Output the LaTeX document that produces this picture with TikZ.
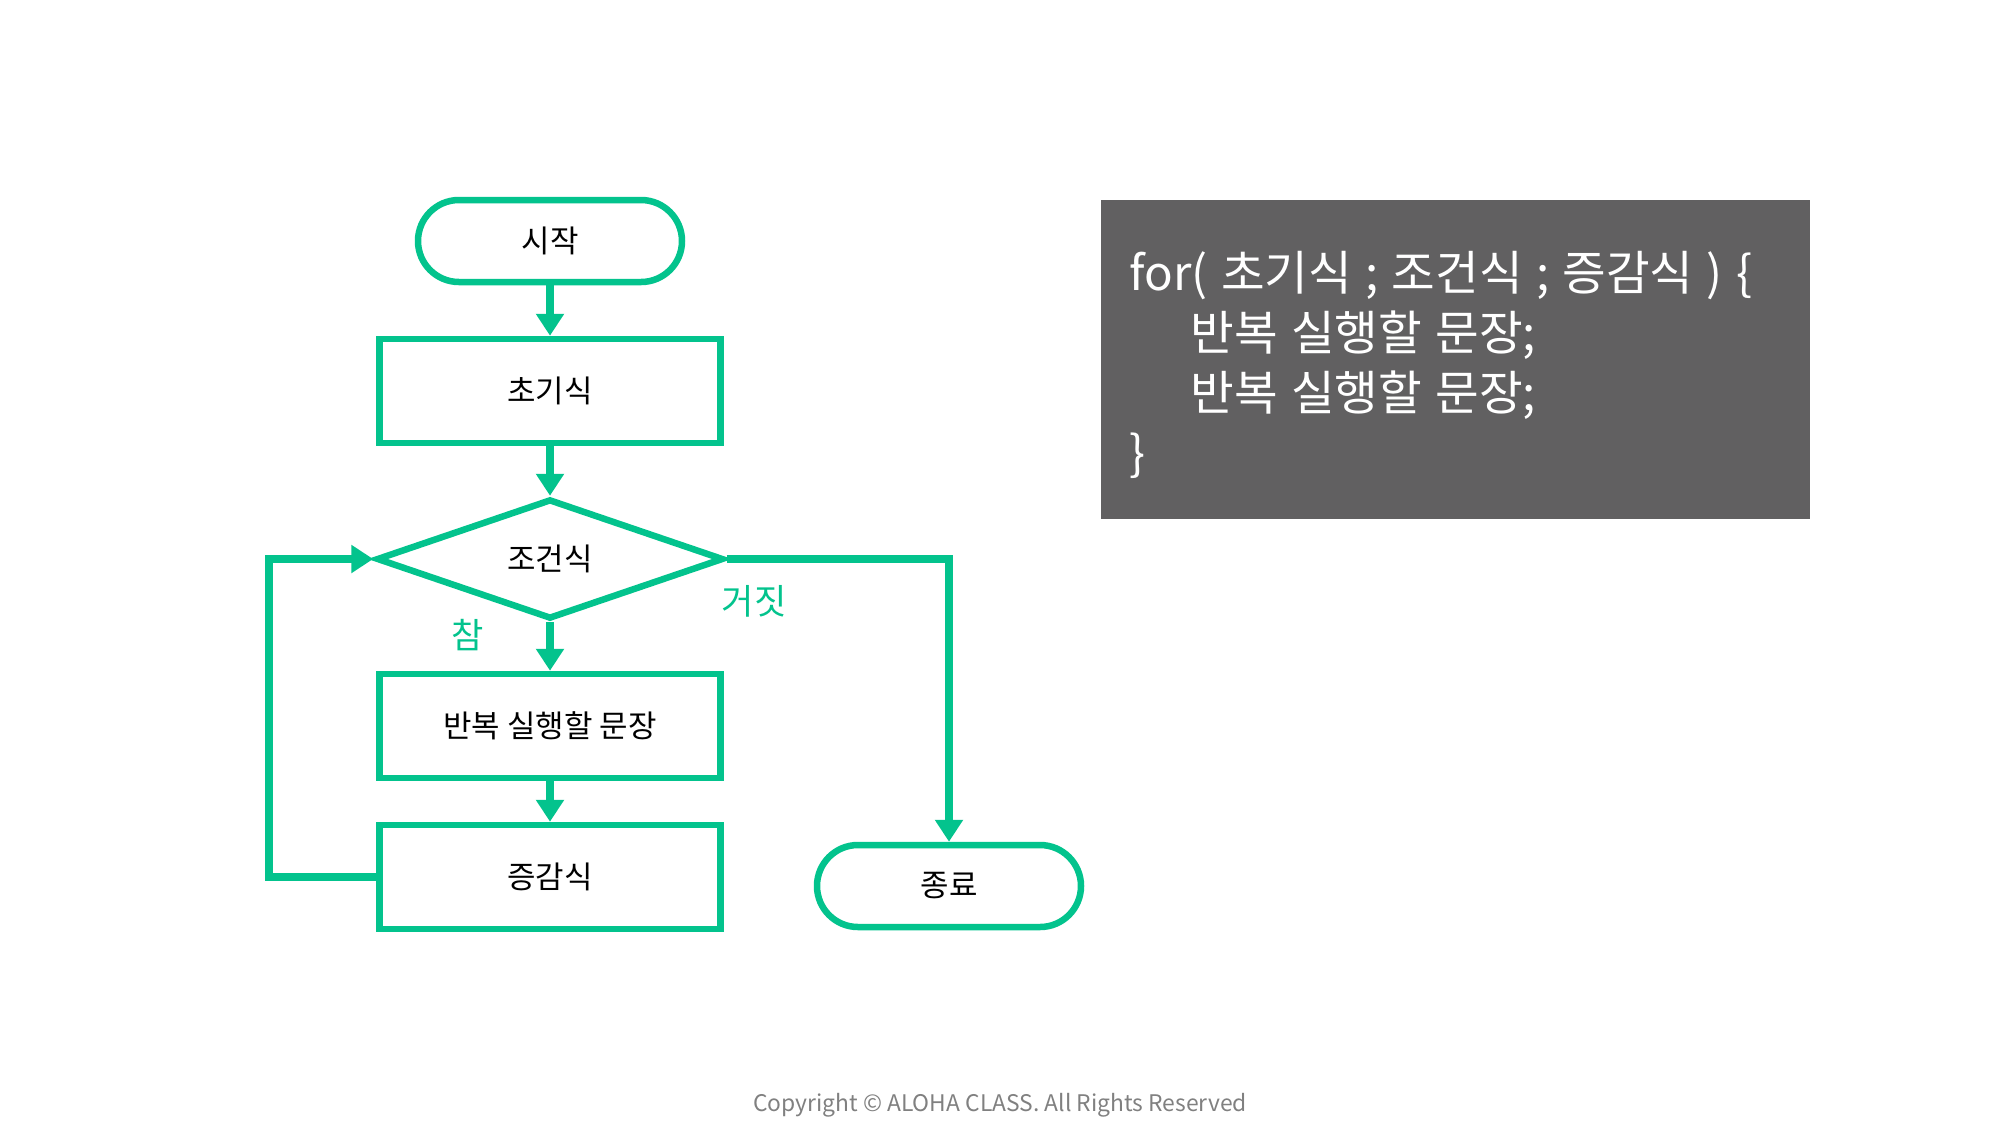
\documentclass[tikz,border=0pt]{standalone}
\usepackage{fontspec}
\setmainfont{Noto Sans CJK KR}
\newfontfamily\codefont{Noto Sans CJK KR}[WordSpace=1.25]
\usetikzlibrary{arrows.meta,shapes.geometric}
\definecolor{flow}{RGB}{3,195,141}
\definecolor{codebg}{RGB}{97,96,97}
\definecolor{copyc}{RGB}{128,128,128}
\tikzset{
  box/.style={draw=flow,line width=0.065cm,fill=white,align=center,font=\fontsize{8.8}{10}\selectfont,minimum width=3.41cm,minimum height=1.04cm,inner sep=0pt},
  term/.style={box,rounded corners=0.41cm,minimum width=2.64cm,minimum height=0.82cm},
  cond/.style={box,diamond,aspect=2.9,minimum width=3.47cm,minimum height=1.2cm},
  lbl/.style={font=\fontsize{10}{12}\selectfont,text=flow},
  codeln/.style={anchor=base west,text=white,font=\codefont\fontsize{13.5}{17}\selectfont,inner sep=0pt},
  ar/.style={-{Triangle[length=0.22cm,width=0.27cm]},draw=flow,line width=0.085cm},
}
\begin{document}
\begin{tikzpicture}
  \useasboundingbox (0,0) rectangle (20,-11.31);
  % flow chart
  \node[term] (start) at (5.50,-2.41) {시작};
  \node[box] (init) at (5.50,-3.91) {초기식};
  \node[cond] (test) at (5.50,-5.59) {조건식};
  \node[box] (body) at (5.50,-7.26) {반복 실행할 문장};
  \node[box] (incr) at (5.50,-8.77) {증감식};
  \node[term] (stop) at (9.49,-8.86) {종료};
  \coordinate (back) at (2.69,-8.77);
  \draw[ar] (start) -- (init);
  \draw[ar] (init) -- (test);
  \draw[ar] (test) -- (body);
  \draw[ar] (body) -- (incr);
  \draw[ar] (incr.west) -- (back) |- (test.west);
  \draw[ar] (test.east) -| (stop.north);
  \node[lbl] (yes) at (4.68,-6.35) {참};
  \node[lbl] (no) at (7.54,-6.01) {거짓};
  % code box
  \node[fill=codebg,minimum width=7.09cm,minimum height=3.19cm,inner sep=0pt] (code) at (14.555,-3.595) {};
  \node[codeln] (c1) at (11.29,-2.90) {for( 초기식 ; 조건식 ; 증감식 ) \{};
  \node[codeln] (c2) at (11.90,-3.50) {반복 실행할 문장;};
  \node[codeln] (c3) at (11.90,-4.10) {반복 실행할 문장;};
  \node[codeln] (c4) at (11.29,-4.70) {\}};
  \node[text=copyc,font=\fontsize{6.5}{8}\selectfont] (copy) at (10.00,-11.05) {Copyright © ALOHA CLASS. All Rights Reserved};
\end{tikzpicture}
\end{document}
